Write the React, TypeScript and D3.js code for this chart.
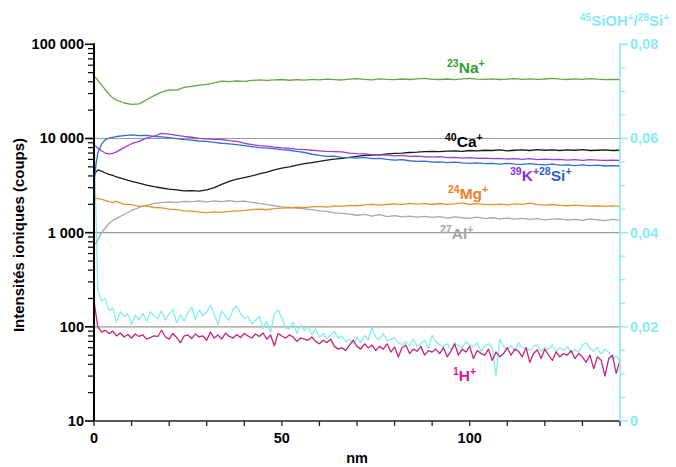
import React from 'react';
import * as d3 from 'd3';

// ---------- data ----------
const SMOOTH_NM = [0, 0.5, 1, 2, 3, 4, 5, 6,
  8, 10, 12, 14, 16, 18, 20, 22, 24, 26, 28, 30, 32, 34, 36, 38, 40, 42, 44, 46, 48, 50,
  52, 54, 56, 58, 60, 62, 64, 66, 68, 70, 72, 74, 76, 78, 80, 82, 84, 86, 88, 90,
  92, 94, 96, 98, 100, 102, 104, 106, 108, 110, 112, 114, 116, 118, 120, 122, 124, 126, 128, 130,
  132, 134, 136, 138, 140];

const NA = [46000, 44000, 41500, 37000, 33000, 29500, 27000, 25500,
  23800, 23000, 23300, 25800, 28500, 31000, 32800, 32600, 34800, 35800, 36900, 37600, 39000, 40600, 40200, 40800, 40400, 41300, 41900, 41400, 41900, 42300,
  41500, 42100, 41600, 42500, 42000, 42700, 42200, 41800, 42600, 43300, 42500, 42000, 42900, 42400, 42100, 42800, 42300, 42900, 43400, 42500,
  42300, 42800, 42200, 42900, 43500, 42600, 42400, 43000, 42300, 42700, 43300, 42500, 43000, 42400, 42800, 43400, 42700, 42300, 42900, 42500,
  43200, 42600, 42200, 42400, 42300];

const SI = [3500, 5200, 7000, 8700, 9700, 10100, 10300, 10500,
  10700, 10900, 10700, 10800, 10500, 10400, 10200, 9950, 9700, 9600, 9400, 9300, 9100, 8900, 8750, 8600, 8400, 8200, 8000, 7900, 7800, 7600,
  7500, 7300, 7100, 6800, 6600, 6450, 6500, 6300, 6250, 6200, 6300, 6100, 6150, 6000, 5900, 5950, 5800, 5700, 5750, 5600,
  5650, 5550, 5600, 5500, 5450, 5500, 5400, 5450, 5350, 5450, 5350, 5300, 5400, 5300, 5250, 5350, 5200, 5250, 5150, 5250,
  5150, 5200, 5100, 5150, 5100];

const K = [8600, 8300, 7900, 7400, 7000, 6850, 6950, 7200,
  8000, 8800, 9300, 10100, 10600, 11300, 11100, 10800, 10500, 10300, 10000, 9900, 9800, 9750, 9500, 9300, 8900, 8600, 8400, 8300, 8100, 7950,
  7850, 7700, 7600, 7500, 7400, 7300, 7250, 7200, 7000, 6900, 6850, 6750, 6700, 6650, 6550, 6600, 6450, 6500, 6400, 6350,
  6400, 6250, 6300, 6200, 6250, 6150, 6200, 6100, 6150, 6050, 6100, 6000, 6100, 5950, 6050, 5950, 6000, 5900, 5950, 5850,
  5950, 5900, 5850, 5900, 5850];

const CA = [4100, 4400, 4650, 4500, 4300, 4150, 4050, 3900,
  3700, 3500, 3350, 3200, 3080, 2980, 2900, 2850, 2780, 2800, 2760, 2850, 3000, 3250, 3500, 3700, 3850, 4000, 4200, 4400, 4650, 4850,
  5000, 5200, 5400, 5550, 5700, 5900, 6050, 6150, 6300, 6450, 6600, 6650, 6700, 6850, 6950, 7000, 7100, 7150, 7250, 7300,
  7250, 7350, 7400, 7300, 7450, 7400, 7500, 7450, 7550, 7400, 7500, 7550, 7450, 7600, 7500, 7550, 7450, 7550, 7500, 7600,
  7450, 7500, 7550, 7450, 7500];

const MG = [2350, 2320, 2300, 2250, 2200, 2130, 2100, 2150,
  2000, 1980, 1900, 1920, 1850, 1830, 1780, 1760, 1700, 1690, 1650, 1630, 1660, 1640, 1680, 1700, 1720, 1760, 1780, 1750, 1800, 1820,
  1830, 1860, 1840, 1880, 1900, 1870, 1920, 1900, 1950, 1930, 1970, 2000, 1960, 1990, 2020, 1980, 2050, 2010, 2030, 1990,
  2040, 2000, 2020, 2070, 1990, 2030, 2000, 1980, 2010, 1970, 2020, 2000, 2060, 1980, 1960, 1990, 1950, 1930, 1960, 1940,
  1910, 1930, 1900, 1920, 1900];

const AL = [740, 780, 830, 1000, 1120, 1250, 1350, 1420,
  1560, 1720, 1850, 1950, 2050, 2080, 2120, 2100, 2150, 2130, 2180, 2120, 2170, 2140, 2190, 2130, 2160, 2100, 2050, 1980, 1930, 1880,
  1850, 1820, 1790, 1760, 1700, 1680, 1620, 1600, 1570, 1530, 1560, 1500, 1550, 1480, 1520, 1470, 1500, 1460, 1490, 1450,
  1480, 1430, 1470, 1440, 1420, 1460, 1410, 1440, 1400, 1430, 1390, 1420, 1380, 1410, 1370, 1390, 1400, 1360, 1380, 1350,
  1400, 1370, 1340, 1380, 1360];

// 1 nm steps, 0..140
const H = [190, 100, 88, 92, 85, 90, 80, 86, 78, 83,
  76, 84, 79, 82, 74, 77, 80, 79, 92, 78,
  74, 85, 77, 68, 80, 82, 75, 84, 78, 80,
  72, 88, 76, 82, 74, 86, 79, 76, 83, 77,
  85, 80, 76, 84, 79, 86, 74, 82, 63, 85,
  80, 76, 82, 78, 70, 76, 74, 72, 78, 70,
  66, 72, 68, 74, 62, 58, 60, 56, 64, 72,
  62, 58, 66, 60, 64, 56, 62, 58, 66, 54,
  61, 48, 60, 64, 52, 58, 55, 62, 50, 56,
  54, 58, 52, 60, 48, 55, 66, 50, 58, 54,
  62, 46, 56, 52, 50, 58, 44, 54, 48, 52,
  60, 50, 58, 55, 48, 60, 42, 52, 57, 46,
  58, 50, 44, 54, 48, 52, 50, 56, 46, 52,
  48, 42, 50, 36, 48, 44, 30, 46, 50, 32,
  44];

const SIOH = [0.062, 0.028, 0.0255, 0.026, 0.0235, 0.024, 0.021, 0.0232, 0.0222, 0.0228,
  0.0205, 0.0225, 0.0215, 0.0228, 0.0212, 0.0232, 0.0222, 0.0218, 0.0234, 0.0214,
  0.0228, 0.0238, 0.0208, 0.0226, 0.0212, 0.023, 0.0242, 0.0216, 0.0236, 0.0224,
  0.0232, 0.0246, 0.0226, 0.0205, 0.0234, 0.0222, 0.0214, 0.0238, 0.0244, 0.0228,
  0.0218, 0.0222, 0.0206, 0.0214, 0.0222, 0.0196, 0.0212, 0.0188, 0.0228, 0.0236,
  0.0218, 0.0198, 0.0195, 0.021, 0.0186, 0.0204, 0.0192, 0.02, 0.0184, 0.0196,
  0.0178, 0.0186, 0.0174, 0.0182, 0.019, 0.0176, 0.018, 0.0168, 0.0174, 0.0164,
  0.0178, 0.0166, 0.0182, 0.0172, 0.0198, 0.0178, 0.0172, 0.0186, 0.017, 0.0174,
  0.0176, 0.0166, 0.0162, 0.0168, 0.016, 0.0174, 0.0158, 0.0164, 0.0172, 0.0154,
  0.0182, 0.0168, 0.0162, 0.0158, 0.0164, 0.0152, 0.0166, 0.016, 0.0156, 0.0168,
  0.0162, 0.0158, 0.0166, 0.0148, 0.016, 0.0164, 0.0156, 0.0095, 0.0174, 0.0158,
  0.0152, 0.016, 0.0148, 0.0166, 0.0156, 0.0156, 0.015, 0.0158, 0.0162, 0.0148,
  0.0156, 0.0152, 0.0162, 0.0146, 0.0156, 0.015, 0.0158, 0.0144, 0.0152, 0.0146,
  0.0162, 0.0166, 0.0154, 0.0148, 0.0156, 0.0142, 0.0152, 0.0146, 0.0132, 0.0138,
  0.0128];

const LEFT_TICKS = [10, 100, 1000, 10000, 100000];
const LEFT_TICK_LABELS = ['10', '100', '1 000', '10 000', '100 000'];
const GRID_VALUES = [100, 1000, 10000];
const RIGHT_TICKS = [0, 0.02, 0.04, 0.06, 0.08];
const RIGHT_TICK_LABELS = ['0', '0,02', '0,04', '0,06', '0,08'];
const X_TICKS = [0, 10, 20, 30, 40, 50, 60, 70, 80, 90, 100, 110, 120, 130, 140];
const X_TICK_LABELS = ['0', '50', '100'];
const X_LABELED = [0, 50, 100];

// ---------- layout ----------
const W = 676, H_ = 467;
const L = 94, R = 620, T = 44.3, B = 421;
const FONT = '"Liberation Sans", Arial, sans-serif';
const CYAN = '#86ecf0';

export default function App() {
  const x = d3.scaleLinear().domain([0, 140]).range([L, R]);
  const y = d3.scaleLog().domain([10, 100000]).range([B, T]);
  const y2 = d3.scaleLinear().domain([0, 0.08]).range([B, T]);

  const smooth = (vals: number[]) =>
    d3.line<number>().x((_, i) => x(SMOOTH_NM[i])).y((v) => y(v))(vals) || '';
  const dense = (vals: number[], sc: (v: number) => number) =>
    d3.line<number>().x((_, i) => x(i)).y((v) => sc(v))(vals) || '';

  const minorLeft: number[] = [];
  for (let d = 10; d < 100000; d *= 10) for (let k = 2; k <= 9; k++) minorLeft.push(d * k);
  const minorRight: number[] = [];
  for (let k = 1; k < 16; k++) if (k % 4 !== 0) minorRight.push(k * 0.005);

  const series = [
    { d: dense(SIOH, y2), c: CYAN, w: 1.3 },
    { d: dense(H, y), c: '#c42478', w: 1.3 },
    { d: smooth(AL), c: '#a8a8a8', w: 1.3 },
    { d: smooth(MG), c: '#e8922e', w: 1.3 },
    { d: smooth(CA), c: '#1a1a1a', w: 1.3 },
    { d: smooth(SI), c: '#2f6fd0', w: 1.3 },
    { d: smooth(K), c: '#9a3ed4', w: 1.3 },
    { d: smooth(NA), c: '#62a83c', w: 1.3 },
  ];

  const lab = (sup: string, main: string, sup2: string, px: number, py: number, color: string) => (
    <text x={px} y={py} fill={color} fontFamily={FONT} fontWeight="bold" fontSize={15.5}>
      <tspan fontSize={10.5} dy={-6}>{sup}</tspan>
      <tspan dy={6}>{main}</tspan>
      <tspan fontSize={10.5} dy={-6}>{sup2}</tspan>
    </text>
  );

  return (
    <svg width={W} height={H_} style={{ position: 'absolute', left: 0, top: 0, background: '#fff' }}>
      {/* grid */}
      {GRID_VALUES.map((v) => (
        <line key={v} x1={L} x2={R} y1={y(v)} y2={y(v)} stroke="#9a9a9a" strokeWidth={1.2} />
      ))}
      {/* series */}
      {series.map((s, i) => (
        <path key={i} d={s.d} fill="none" stroke={s.c} strokeWidth={s.w} strokeLinejoin="round" />
      ))}
      {/* left axis */}
      <line x1={L} x2={L} y1={T - 1} y2={B} stroke="#000" strokeWidth={2} />
      {LEFT_TICKS.map((v, i) => (
        <g key={v}>
          <line x1={L - 9} x2={L} y1={y(v)} y2={y(v)} stroke="#000" strokeWidth={1.6} />
          <text x={L - 10} y={y(v) + 5} textAnchor="end" fontFamily={FONT} fontWeight="bold" fontSize={14.5} fill="#000">
            {LEFT_TICK_LABELS[i]}
          </text>
        </g>
      ))}
      {minorLeft.map((v) => (
        <line key={v} x1={L - 6} x2={L} y1={y(v)} y2={y(v)} stroke="#000" strokeWidth={1.2} />
      ))}
      {/* bottom axis */}
      <line x1={L} x2={R} y1={B} y2={B} stroke="#222" strokeWidth={1.6} />
      {X_TICKS.map((v) => (
        <line key={v} x1={x(v)} x2={x(v)} y1={B} y2={B + 5} stroke="#222" strokeWidth={1.3} />
      ))}
      {X_LABELED.map((v, i) => (
        <text key={v} x={x(v)} y={443} textAnchor="middle" fontFamily={FONT} fontWeight="bold" fontSize={14.5} fill="#000">
          {X_TICK_LABELS[i]}
        </text>
      ))}
      <text x={357} y={463} textAnchor="middle" fontFamily={FONT} fontWeight="bold" fontSize={14.5} fill="#000">nm</text>
      {/* right axis */}
      <line x1={R} x2={R} y1={T - 1} y2={B} stroke={CYAN} strokeWidth={1.6} />
      {RIGHT_TICKS.map((v, i) => (
        <g key={v}>
          <line x1={R} x2={R + 8} y1={y2(v)} y2={y2(v)} stroke={CYAN} strokeWidth={1.4} />
          <text x={R + 10} y={y2(v) + 5} textAnchor="start" fontFamily={FONT} fontWeight="bold" fontSize={14.5} fill={CYAN}>
            {RIGHT_TICK_LABELS[i]}
          </text>
        </g>
      ))}
      {minorRight.map((v) => (
        <line key={v} x1={R} x2={R + 5} y1={y2(v)} y2={y2(v)} stroke={CYAN} strokeWidth={1.2} />
      ))}
      {/* right title */}
      <text x={580} y={26} fontFamily={FONT} fontWeight="bold" fontSize={15} fill={CYAN}>
        <tspan fontSize={10} dy={-5}>45</tspan>
        <tspan dy={5}>SiOH</tspan>
        <tspan fontSize={10} dy={-5}>+</tspan>
        <tspan dy={5}>/</tspan>
        <tspan fontSize={10} dy={-5}>28</tspan>
        <tspan dy={5}>Si</tspan>
        <tspan fontSize={10} dy={-5}>+</tspan>
      </text>
      {/* y label */}
      <text transform="translate(24,235) rotate(-90)" textAnchor="middle" fontFamily={FONT} fontWeight="bold" fontSize={15} fill="#000">
        Intensités ioniques (coups)
      </text>
      {/* series labels */}
      {lab('23', 'Na', '+', 447, 73, '#2e9e2e')}
      {lab('40', 'Ca', '+', 445, 147, '#000')}
      {lab('24', 'Mg', '+', 448, 199, '#ee7d1e')}
      {lab('27', 'Al', '+', 440, 239, '#a4a4a4')}
      {lab('1', 'H', '+', 453, 381, '#e0168a')}
      <text x={510} y={181} fontFamily={FONT} fontWeight="bold" fontSize={15.5}>
        <tspan fontSize={10.5} dy={-6} fill="#8e2ed8">39</tspan>
        <tspan dy={6} fill="#8e2ed8">K</tspan>
        <tspan fontSize={10.5} dy={-6} fill="#8e2ed8">+</tspan>
        <tspan fontSize={10.5} fill="#2a5fd6">28</tspan>
        <tspan dy={6} fill="#2a5fd6">Si</tspan>
        <tspan fontSize={10.5} dy={-6} fill="#2a5fd6">+</tspan>
      </text>
    </svg>
  );
}
